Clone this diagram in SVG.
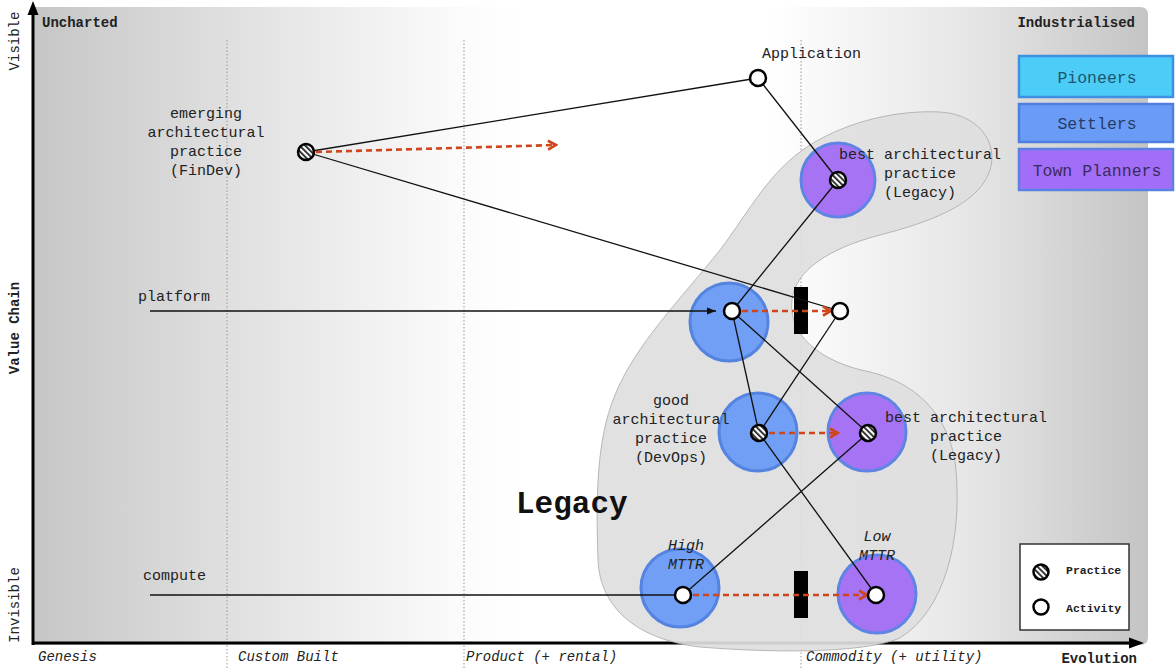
<svg xmlns="http://www.w3.org/2000/svg" width="1175" height="669" viewBox="0 0 1175 669">
<defs>
<linearGradient id="bg" gradientUnits="userSpaceOnUse" x1="33" y1="0" x2="1148" y2="0">
<stop offset="0" stop-color="#c6c6c6"/>
<stop offset="0.18" stop-color="#e0e0e0"/>
<stop offset="0.38" stop-color="#fbfbfb"/>
<stop offset="0.44" stop-color="#ffffff"/>
<stop offset="0.66" stop-color="#ffffff"/>
<stop offset="0.84" stop-color="#e6e6e6"/>
<stop offset="1" stop-color="#c4c4c4"/>
</linearGradient>
<pattern id="hatch" patternUnits="userSpaceOnUse" width="4" height="4" patternTransform="rotate(-45)">
<rect width="4" height="4" fill="#fff"/>
<rect width="1.8" height="4" fill="#222"/>
</pattern>
<marker id="redArrow" markerUnits="userSpaceOnUse" viewBox="0 0 12 12" refX="10" refY="6" markerWidth="12" markerHeight="12" orient="auto">
<path d="M2,1.5 L10,6 L2,10.5" fill="none" stroke="#d0461c" stroke-width="2.6"/>
</marker>
<marker id="blackArrow" markerUnits="userSpaceOnUse" viewBox="0 0 10 10" refX="9" refY="5" markerWidth="10" markerHeight="10" orient="auto">
<path d="M0,1.5 L9,5 L0,8.5 Z" fill="#111"/>
</marker>
</defs>
<style>
.t{font-family:"Liberation Mono","DejaVu Sans Mono",monospace;font-size:15px;fill:#222}
.c{text-anchor:middle}
.i{font-style:italic}
.b{font-weight:bold}
.ax{font-family:"Liberation Mono","DejaVu Sans Mono",monospace;font-size:14px;fill:#222}
.dot{stroke:#000;stroke-width:2.5}
.act{fill:#fff}
.prac{fill:url(#hatch)}
.link{stroke:#111;stroke-width:1.3;fill:none}
.evo{stroke:#d0461c;stroke-width:2.6;stroke-dasharray:6,4;fill:none;marker-end:url(#redArrow)}
.grid{stroke:#999;stroke-width:1;stroke-dasharray:1.5,2}
.blue{fill:#6a9cf7;stroke:#4e7fe0;stroke-width:3;opacity:0.95}
.purple{fill:#a36ef7;stroke:#5a80e4;stroke-width:3;opacity:0.95}
.bar{fill:#000}
</style>

<g id="background">
<path d="M33,7 H1140 Q1148,7 1148,15 V637 Q1148,645 1140,645 H33 Z" fill="url(#bg)"/>
<line class="grid" x1="227" y1="40" x2="227" y2="669"/>
<line class="grid" x1="464" y1="40" x2="464" y2="669"/>
<line class="grid" x1="801" y1="40" x2="801" y2="669"/>
</g>

<g id="axes">
<line x1="33" y1="645" x2="33" y2="14" stroke="#000" stroke-width="3"/>
<path d="M33,1 L38.5,15 L27.5,15 Z" fill="#000"/>
<line x1="32" y1="643" x2="1130" y2="643" stroke="#000" stroke-width="3"/>
<path d="M1144,643 L1129,637.5 L1129,648.5 Z" fill="#000"/>
<text class="ax" transform="translate(19,41) rotate(-90)" text-anchor="middle">Visible</text>
<text class="ax b" transform="translate(19,328) rotate(-90)" text-anchor="middle">Value Chain</text>
<text class="ax" transform="translate(19,605) rotate(-90)" text-anchor="middle">Invisible</text>
<text class="ax b" x="42" y="27">Uncharted</text>
<text class="ax b" x="1135" y="27" text-anchor="end">Industrialised</text>
<text class="ax i" x="38" y="661">Genesis</text>
<text class="ax i" x="238" y="661">Custom Built</text>
<text class="ax i" x="466" y="661">Product (+ rental)</text>
<text class="ax i" x="806" y="661">Commodity (+ utility)</text>
<text class="ax b" x="1137" y="663" text-anchor="end">Evolution</text>
</g>

<g id="legacy-area">
<path d="M700,647 C640,640 600,610 598,560 C596,500 596,440 615,395 C635,345 680,300 720,250 C750,210 770,170 810,145 C850,120 900,110 940,112 C985,115 1000,150 988,175 C975,205 930,222 880,235 C830,248 795,270 792,300 C788,335 820,362 870,372 C925,385 952,425 956,470 C962,540 945,610 900,638 C860,655 760,652 700,647 Z" fill="#dedee0" fill-opacity="0.92" stroke="#a8a8a8" stroke-width="0.8"/>
<text class="t b" x="516" y="513" style="font-size:31px;fill:#111">Legacy</text>
</g>

<g id="stages">
<circle class="purple" cx="838" cy="180" r="37"/>
<circle class="blue" cx="729" cy="322" r="39"/>
<circle class="blue" cx="758" cy="432" r="39"/>
<circle class="purple" cx="867" cy="432" r="39"/>
<circle class="blue" cx="680" cy="588" r="39"/>
<circle class="purple" cx="877" cy="594" r="39"/>
</g>

<g id="inertia">
<rect class="bar" x="794" y="287" width="14" height="47"/>
<rect class="bar" x="794" y="571" width="14" height="47"/>
</g>

<g id="connectors">
<line class="link" x1="306" y1="152" x2="758" y2="78"/>
<line class="link" x1="306" y1="152" x2="840" y2="311"/>
<line class="link" x1="758" y1="78" x2="838" y2="180"/>
<line class="link" x1="838" y1="180" x2="732" y2="311"/>
<line class="link" x1="150" y1="311" x2="716" y2="311" marker-end="url(#blackArrow)"/>
<line class="link" x1="732" y1="311" x2="759" y2="433"/>
<line class="link" x1="732" y1="311" x2="868" y2="433"/>
<line class="link" x1="840" y1="311" x2="759" y2="433"/>
<line class="link" x1="759" y1="433" x2="876" y2="595"/>
<line class="link" x1="868" y1="433" x2="683" y2="595"/>
<line class="link" x1="150" y1="595" x2="683" y2="595"/>
<line class="evo" x1="316" y1="152" x2="556" y2="145"/>
<line class="evo" x1="742" y1="311" x2="831" y2="311"/>
<line class="evo" x1="769" y1="433" x2="838" y2="433"/>
<line class="evo" x1="693" y1="595" x2="867" y2="595"/>
</g>

<g id="node-findev">
<text class="t c" x="206" y="118">emerging</text>
<text class="t c" x="206" y="137">architectural</text>
<text class="t c" x="206" y="156">practice</text>
<text class="t c" x="206" y="175">(FinDev)</text>
<circle class="dot prac" cx="306" cy="152" r="8"/>
</g>

<g id="node-application">
<text class="t" x="762" y="58">Application</text>
<circle class="dot act" cx="758" cy="78" r="8"/>
</g>

<g id="node-best-top">
<text class="t c" x="920" y="159">best architectural</text>
<text class="t c" x="920" y="178">practice</text>
<text class="t c" x="920" y="197">(Legacy)</text>
<circle class="dot prac" cx="838" cy="180" r="8"/>
</g>

<g id="node-platform">
<text class="t" x="138" y="301">platform</text>
<circle class="dot act" cx="732" cy="311" r="8"/>
</g>

<g id="node-platform-evolved">
<circle class="dot act" cx="840" cy="311" r="8"/>
</g>

<g id="node-good">
<text class="t c" x="671" y="405">good</text>
<text class="t c" x="671" y="424">architectural</text>
<text class="t c" x="671" y="443">practice</text>
<text class="t c" x="671" y="462">(DevOps)</text>
<circle class="dot prac" cx="759" cy="433" r="8"/>
</g>

<g id="node-best-lower">
<text class="t c" x="966" y="422">best architectural</text>
<text class="t c" x="966" y="441">practice</text>
<text class="t c" x="966" y="460">(Legacy)</text>
<circle class="dot prac" cx="868" cy="433" r="8"/>
</g>

<g id="node-compute">
<text class="t" x="143" y="580">compute</text>
</g>

<g id="node-high-mttr">
<text class="t c i" x="686" y="550">High</text>
<text class="t c i" x="686" y="569">MTTR</text>
<circle class="dot act" cx="683" cy="595" r="8"/>
</g>

<g id="node-low-mttr">
<text class="t c i" x="877" y="541">Low</text>
<text class="t c i" x="877" y="560">MTTR</text>
<circle class="dot act" cx="876" cy="595" r="8"/>
</g>

<g id="legend-stages">
<rect x="1019" y="56" width="154" height="41" fill="#4ccdf8" stroke="#3f8fe2" stroke-width="2.5"/>
<text class="t c" x="1097" y="83" style="font-size:16.5px;fill:#1d5670">Pioneers</text>
<rect x="1019" y="104" width="154" height="38" fill="#6a9cf7" stroke="#4e7fe0" stroke-width="2.5"/>
<text class="t c" x="1097" y="129" style="font-size:16.5px;fill:#243d66">Settlers</text>
<rect x="1019" y="149" width="154" height="41" fill="#a36ef7" stroke="#5a80e4" stroke-width="2.5"/>
<text class="t c" x="1097" y="176" style="font-size:16.5px;fill:#3a2a5c">Town Planners</text>
</g>

<g id="legend-symbols">
<rect x="1020" y="544" width="109" height="86" fill="#fff" stroke="#333" stroke-width="1.5"/>
<circle class="dot prac" cx="1041" cy="572" r="7.5"/>
<text class="ax b" x="1066" y="574" style="font-size:11.5px">Practice</text>
<circle class="dot act" cx="1041" cy="607" r="7.5"/>
<text class="ax b" x="1066" y="612" style="font-size:11.5px">Activity</text>
</g>
</svg>
